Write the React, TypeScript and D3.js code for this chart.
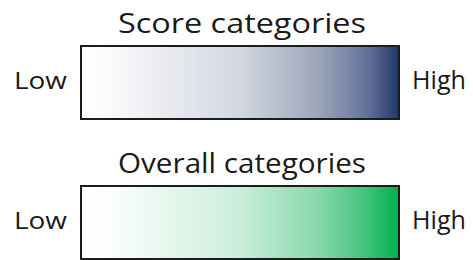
import React from "react";
import { scaleLinear, scalePoint } from "d3";

// legend content
const legendTitles = ["Score categories", "Overall categories"];
const lowLabels = ["Low", "Low"];
const highLabels = ["High", "High"];
const stopOffsets = [0, 0.08, 0.5, 0.75, 0.9, 1];
const scoreStops = ["#ffffff", "#fbfbfc", "#d2d7e0", "#9ba5ba", "#64729a", "#1f3864"];
const overallStops = ["#ffffff", "#fcfefd", "#cbeedb", "#86d8a9", "#40c27a", "#00b050"];
const stopSets = [scoreStops, overallStops];

const W = 473;
const H = 260;
const FONT = "'Open Sans', 'Noto Sans', sans-serif";

function App() {
  const boxX = scaleLinear().domain([0, 1]).range([81, 399]);
  const rowY = scalePoint<number>().domain([0, 1]).range([46, 186]);
  const boxH = 73;

  return (
    <div style={{ position: "absolute", left: 0, top: 0 }}>
      <svg width={W} height={H} style={{ display: "block", background: "#fff" }}>
        <defs>
          {stopSets.map((stops, i) => (
            <linearGradient key={i} id={`grad${i}`} x1="0" x2="1" y1="0" y2="0">
              {stops.map((c, j) => (
                <stop key={j} offset={stopOffsets[j]} stopColor={c} />
              ))}
            </linearGradient>
          ))}
        </defs>
        {legendTitles.map((title, i) => {
          const y0 = rowY(i)!;
          const x0 = boxX(0);
          const x1 = boxX(1);
          return (
            <g key={i}>
              <text
                x={(x0 + x1) / 2 + 2}
                y={y0 - 13}
                textAnchor="middle"
                fontFamily={FONT}
                fontSize={28}
                fill="#1a1a1a"
                textLength={248}
                lengthAdjust="spacingAndGlyphs"
              >
                {title}
              </text>
              <rect
                x={x0}
                y={y0}
                width={x1 - x0}
                height={boxH}
                fill={`url(#grad${i})`}
                stroke="#1c1c1c"
                strokeWidth={2}
              />
              <text
                x={14}
                y={y0 + 43}
                fontFamily={FONT}
                fontSize={23}
                fill="#1a1a1a"
                textLength={53}
                lengthAdjust="spacingAndGlyphs"
              >
                {lowLabels[i]}
              </text>
              <text
                x={412}
                y={y0 + 43}
                fontFamily={FONT}
                fontSize={26}
                fill="#1a1a1a"
                textLength={54}
                lengthAdjust="spacingAndGlyphs"
              >
                {highLabels[i]}
              </text>
            </g>
          );
        })}
      </svg>
    </div>
  );
}

export default App;
